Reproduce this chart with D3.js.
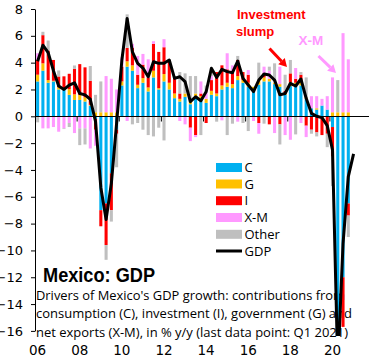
<!DOCTYPE html>
<html><head><meta charset="utf-8">
<script src="https://cdn.jsdelivr.net/npm/d3@7"></script>
<style>html,body{margin:0;padding:0;background:#fff;} svg{display:block;}</style>
</head><body><svg id="c" width="384" height="360"></svg>
<script>
// ---- data (contributions to y/y GDP growth, % pts), 2006Q1..2020Q4; GDP to 2021Q1
const years = d3.range(2006, 2022);
const categories = years.flatMap(y => ["Q1","Q2","Q3","Q4"].map(q => y + q));
const tickLabels = ["06","08","10","12","14","16","18","20"];
const seriesNames = ["C","G","I","X-M","Other"];
const C  = [2.6,3.4,2.5,2.6,2.0,1.98,1.6,1.22,1.22,1.1,0.8,-0.2,-7.0,-6.5,-4.25,-1.0,2.3,3.7,3.4,2.1,
            2.5,1.85,2.9,2.0,2.6,2.0,1.35,1.1,1.45,0.9,1.5,1.3,1.0,1.6,1.5,2.0,2.2,2.1,2.7,2.5,
            2.2,1.95,2.35,2.6,2.6,2.4,2.2,1.6,2.25,2.3,2.3,1.3,0.6,0.5,0.8,0.5,-0.8,-16.5,-12.0,-6.5];
const G  = [0.5,0.55,0.2,0.05,0.17,0.05,0.42,0.42,0.37,0.32,0.05,0.3,0.3,0.3,0.3,0.3,0.3,0.4,0.4,0.25,
            0.35,0.3,0.5,0.1,0.55,0.5,0.35,0.2,0.25,0.2,0.2,0.2,0.3,0.3,0.2,0.3,0.3,0.3,0.3,0.2,
            0.3,0.25,0.35,0.3,0.2,0.1,0.2,0.1,0.3,0.2,0.3,0.1,0.0,0.1,0.0,0.0,0.3,0.3,0.3,0.3];
const I  = [1.1,2.1,2.2,1.55,0.8,0.95,1.15,1.9,2.3,2.23,1.8,-0.8,-1.2,-3.1,-2.75,-0.3,1.1,1.0,1.3,0.75,
            1.0,0.75,2.0,2.7,2.0,1.7,1.2,0.4,0.0,-0.85,-1.4,0.2,-0.5,0.8,1.6,1.5,1.0,1.0,1.2,0.6,
            0.6,0.0,-0.5,0.3,-0.6,0.0,-0.6,0.2,0.65,0.3,0.5,-0.7,-1.0,-1.2,-1.4,-1.3,-2.2,-4.6,-3.7,-0.9];
const XM = [0.5,-0.9,-0.9,-0.8,-1.15,-0.9,-0.5,-1.25,-0.9,-0.9,-2.4,-1.2,0.0,2.7,2.5,1.7,0.7,-0.35,0.3,1.4,
            0.8,1.35,0.2,0.0,0.6,0.0,0.0,-0.35,-0.6,-1.0,-0.15,0.9,0.5,0.3,0.0,-0.3,1.2,0.4,-0.4,0.0,
            0.35,-0.35,-0.8,0.5,0.6,-1.25,1.3,-1.4,-1.75,0.8,-0.5,-0.85,0.9,0.9,0.5,1.0,2.6,0.0,5.9,3.95];
const O  = [-0.45,0.25,0.75,0.0,0.45,-0.05,-0.3,0.25,-1.25,-1.2,1.1,1.3,2.3,-1.1,-0.85,-2.5,0.0,2.5,-0.6,-0.5,
            -1.0,-1.4,-1.5,-0.85,-1.8,0.0,0.0,1.6,1.5,1.9,1.3,-1.4,0.5,0.6,-0.4,0.0,-1.4,-0.55,0.3,-0.5,
            -1.1,0.0,1.3,-0.55,0.3,1.45,-1.5,1.2,1.0,-1.35,0.2,1.5,-0.3,-0.3,0.0,-1.0,-2.2,2.4,0.0,-1.6];
const GDP = [4.1,5.3,4.75,3.4,2.26,2.0,2.33,2.5,1.7,1.6,1.27,-0.4,-5.3,-7.7,-5.0,-0.5,4.2,7.3,4.8,3.95,
            3.6,2.95,4.07,3.95,3.95,4.2,2.83,2.95,2.58,1.09,1.46,1.16,1.83,3.58,2.9,3.5,3.33,3.25,4.12,2.83,
            2.33,1.84,2.7,3.15,3.08,2.7,1.6,1.7,2.46,2.26,2.78,1.34,0.22,0.0,-0.1,-0.7,-2.5,-18.7,-9.5,-4.5,-2.8];
const colors = ["#00B0F0","#FFC000","#FF0000","#FF99FF","#BFBFBF"];
const yTicks = d3.range(-16, 9, 2);

// ---- build
const rows = C.map((v, i) => ({cat: categories[i], "C": v, "G": G[i], "I": I[i], "X-M": XM[i], "Other": O[i]}));
const svg = d3.select("#c");
svg.append("rect").attr("width",384).attr("height",360).attr("fill","#fff");

const x = d3.scaleBand().domain(categories).range([35, 372]).paddingInner(0.42).paddingOuter(0.21);
const y = d3.scaleLinear().domain([-16, 8]).range([330.9, 9.0]);
const step = x.step();
const cx = c => x(c) + x.bandwidth() / 2;

svg.append("defs").append("clipPath").attr("id","plot")
  .append("rect").attr("x",35).attr("y",0).attr("width",340).attr("height",336);

// descriptive texts (behind the plot)
const txt = svg.append("g").attr("font-family","'Open Sans', sans-serif").attr("fill","#000");
txt.append("text").attr("x",43).attr("y",281.5).attr("font-size",20).attr("font-weight","bold")
  .attr("font-family","'Liberation Sans', Arial, sans-serif")
  .attr("textLength",112).attr("lengthAdjust","spacingAndGlyphs").text("Mexico: GDP");
const desc = [
  ["Drivers of Mexico's GDP growth: contributions from", 300, 309],
  ["consumption (C), investment (I), government (G) and", 318.3, 316],
  ["net exports (X-M), in % y/y (last data point: Q1 2021)", 336.5, 312]
];
desc.forEach(([t, yy, w]) => txt.append("text").attr("x",36).attr("y",yy).attr("font-size",12)
  .attr("textLength",w).attr("lengthAdjust","spacingAndGlyphs").text(t));

// stacked bars
const stack = d3.stack().keys(seriesNames).offset(d3.stackOffsetDiverging)(rows);
const plot = svg.append("g").attr("clip-path","url(#plot)");
plot.selectAll("g.s").data(stack).join("g").attr("class","s")
  .attr("fill", (d, i) => colors[i])
  .selectAll("rect").data(d => d).join("rect")
  .attr("x", d => x(d.data.cat))
  .attr("width", x.bandwidth())
  .attr("y", d => Math.min(y(d[0]), y(d[1])))
  .attr("height", d => Math.abs(y(d[0]) - y(d[1])));

// axes
const yAxis = d3.axisLeft(y).tickValues(yTicks).tickSize(4).tickSizeOuter(0).tickPadding(8);
const ya = svg.append("g").attr("transform","translate(35,0)").call(yAxis);
ya.selectAll("text").attr("font-family","'DejaVu Sans', sans-serif").attr("font-size",13).attr("fill","#000");
ya.selectAll("line,path").attr("stroke","#000").attr("stroke-width",1);

const y0 = Math.round(y(0)) + 0.5;
svg.append("line").attr("x1",35).attr("x2",369).attr("y1",y0).attr("y2",y0).attr("stroke","#000").attr("stroke-width",1.2);
const tickIdx = d3.range(0, 64, 8);
svg.append("g").selectAll("line").data(tickIdx.slice(1)).join("line")
  .attr("x1", i => 35 + i * step).attr("x2", i => 35 + i * step)
  .attr("y1", y0).attr("y2", y0 + 5).attr("stroke","#000");
svg.append("g").selectAll("text").data(tickIdx).join("text")
  .attr("x", i => cx(categories[i])).attr("y",355).attr("text-anchor","middle")
  .attr("font-family","'DejaVu Sans', sans-serif").attr("font-size",13.5)
  .text((i, k) => tickLabels[k]);

// GDP line
const line = d3.line().x((d, i) => cx(categories[i])).y(d => y(d));
svg.append("g").attr("clip-path","url(#plot)").append("path").datum(GDP)
  .attr("d", line).attr("fill","none").attr("stroke","#000").attr("stroke-width",3).attr("stroke-linejoin","round");

// legend
const legendItems = seriesNames.concat(["GDP"]);
const lg = svg.append("g").attr("font-family","'Open Sans', sans-serif").attr("font-size",13);
const rowsY = [167.5, 184, 200.7, 217.5, 234.3, 251];
legendItems.forEach((n, i) => {
  if (i < 5) lg.append("rect").attr("x",216).attr("y",rowsY[i]-4.5).attr("width",26).attr("height",9).attr("fill",colors[i]);
  else lg.append("line").attr("x1",216).attr("x2",242).attr("y1",rowsY[i]).attr("y2",rowsY[i]).attr("stroke","#000").attr("stroke-width",3);
  lg.append("text").attr("x",244.5).attr("y",rowsY[i]).attr("dy","0.35em").text(n);
});

// annotations
const ann = svg.append("g").attr("font-family","'Liberation Sans', Arial, sans-serif").attr("font-weight","bold").attr("font-size",13);
ann.append("text").attr("x",237).attr("y",19).attr("fill","#FF0000").text("Investment");
ann.append("text").attr("x",236).attr("y",35.5).attr("fill","#FF0000").text("slump");
ann.append("text").attr("x",298.5).attr("y",45).attr("fill","#FF99FF").attr("font-size",13.5).text("X-M");
function arrow(x1, y1, x2, y2, col) {
  const a = Math.atan2(y2 - y1, x2 - x1), hl = 8, hw = 4.5;
  const bx = x2 - hl * Math.cos(a), by = y2 - hl * Math.sin(a);
  svg.append("line").attr("x1",x1).attr("y1",y1).attr("x2",bx).attr("y2",by).attr("stroke",col).attr("stroke-width",3);
  svg.append("path").attr("fill",col).attr("d",
    `M${x2},${y2}L${bx + hw*Math.sin(a)},${by - hw*Math.cos(a)}L${bx - hw*Math.sin(a)},${by + hw*Math.cos(a)}Z`);
}
arrow(269.5, 48.5, 287, 67, "#FF0000");
arrow(318.5, 56, 336, 73, "#FF99FF");
</script></body></html>
